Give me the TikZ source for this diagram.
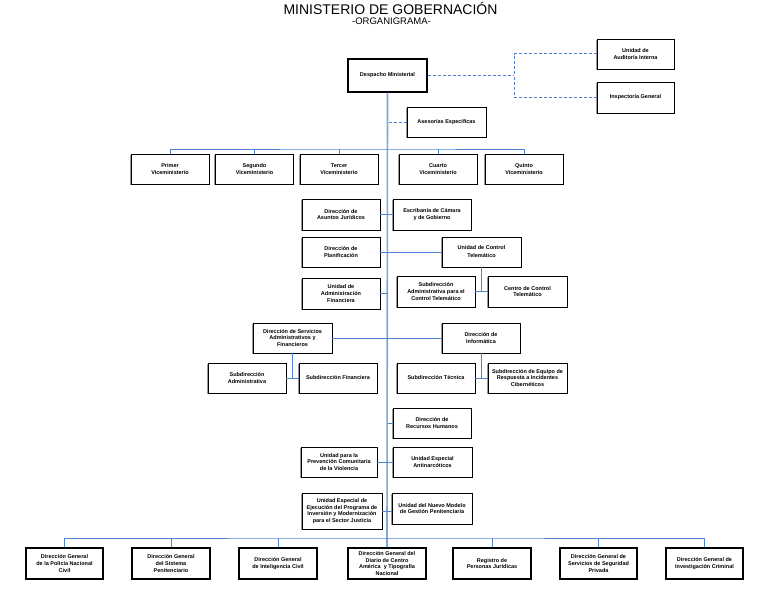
\documentclass[tikz,border=0pt]{standalone}
\usepackage{fontspec}
\setmainfont{Liberation Sans}
\usetikzlibrary{shadows}
\definecolor{spineblue}{RGB}{128,166,222}
\definecolor{lineblue}{RGB}{80,130,212}
\begin{document}
\begin{tikzpicture}[x=1pt,y=-1pt,
  box/.style={draw=black, line width=0.9pt, fill=white, align=center,
    inner sep=1pt, minimum width=78pt, minimum height=30pt,
    font=\fontsize{5.5}{6.8}\selectfont\bfseries,
    drop shadow={shadow xshift=-1.2pt, shadow yshift=-1.2pt, fill=black!40, opacity=1}},
  bigbox/.style={box, line width=1.8pt, minimum height=31pt},
  conn/.style={draw=lineblue, line width=0.9pt},
  spine/.style={draw=spineblue, line width=1.6pt},
  dashconn/.style={draw=lineblue, line width=1pt, dash pattern=on 3pt off 2pt}]
\useasboundingbox (0,0) rectangle (768,594);
\fill[white] (0,0) rectangle (768,594);

\node[font=\fontsize{14}{16}\selectfont] (title) at (390.5,8.5) {MINISTERIO DE GOBERNACIÓN};
\node[font=\fontsize{9.5}{11}\selectfont] (subtitle) at (391.5,21.5) {-ORGANIGRAMA-};

% top
\node[box, line width=1.3pt, minimum width=79pt, minimum height=33pt] (desp) at (387.5,75.5) {Despacho Ministerial};
\node[box, minimum width=77pt] (aud) at (635.5,54) {Unidad de\\Auditoría Interna};
\node[box, minimum width=77pt, minimum height=31pt] (insp) at (635.5,97.5) {Inspectoría General};
\node[box, minimum width=79pt] (ases) at (446.5,122) {Asesorías Específicas};

% vice
\node[box] (v1) at (170,169) {Primer\\Viceministerio};
\node[box] (v2) at (254.5,169) {Segundo\\Viceministerio};
\node[box] (v3) at (339,169) {Tercer\\Viceministerio};
\node[box] (v4) at (438,169) {Cuarto\\Viceministerio};
\node[box] (v5) at (524,169) {Quinto\\Viceministerio};

% middle
\node[box, minimum height=31pt] (jur) at (341,214.5) {Dirección de\\Asuntos Jurídicos};
\node[box, minimum height=31pt] (esc) at (432,214.5) {Escribanía de Cámara\\y de Gobierno};
\node[box] (plan) at (341,252) {Dirección de\\Planificación};
\node[box, minimum width=79pt, font=\fontsize{5.5}{8}\selectfont\bfseries] (ctel) at (481.5,252) {Unidad de Control\\Telemático};
\node[box, minimum height=31pt] (sact) at (436,291.5) {Subdirección\\Administrativa para el\\Control Telemático};
\node[box, minimum width=79pt, minimum height=31pt] (cct) at (527.5,291.5) {Centro de Control\\Telemático};
\node[box, minimum height=31pt] (afin) at (341,293.5) {Unidad de\\Administración\\Financiera};
\node[box, minimum width=79pt] (serv) at (292.5,338) {Dirección de Servicios\\Administrativos y\\Financieros};
\node[box] (inf) at (481,338) {Dirección de\\Informática};
\node[box] (sadm) at (247,378) {Subdirección\\Administrativa};
\node[box] (sfin) at (338,378) {Subdirección Financiera};
\node[box] (stec) at (436,378) {Subdirección Técnica};
\node[box, minimum width=79pt] (seq) at (527.5,378) {Subdirección de Equipo de\\Respuesta a Incidentes\\Cibernéticos};
\node[box] (rrhh) at (432,423) {Dirección de\\Recursos Humanos};
\node[box, minimum width=76pt] (prev) at (339,462) {Unidad para la\\Prevención Comunitaria\\de la Violencia};
\node[box, minimum width=79pt] (anti) at (432.5,462) {Unidad Especial\\Antinarcóticos};
\node[box, minimum width=80pt, minimum height=36pt] (ejec) at (342,511) {Unidad Especial de\\Ejecución del Programa de\\Inversión y Modernización\\para el Sector Justicia};
\node[box, minimum width=80pt, minimum height=31pt] (nuev) at (432,508.5) {Unidad del Nuevo Modelo\\de Gestión Penitenciaria};

% bottom
\node[bigbox, minimum width=77pt] (b1) at (64.5,563.5) {Dirección General\\de la Policía Nacional\\Civil};
\node[bigbox] (b2) at (171,563.5) {Dirección General\\del Sistema\\Penitenciario};
\node[bigbox] (b3) at (278,563.5) {Dirección General\\de Inteligencia Civil};
\node[bigbox] (b4) at (387,563.5) {Dirección General del\\Diario de Centro\\América\ \ y Tipografía\\Nacional};
\node[bigbox] (b5) at (492,563.5) {Registro de\\Personas Jurídicas};
\node[bigbox, minimum width=77pt] (b6) at (598.5,563.5) {Dirección General de\\Servicios de Seguridad\\Privada};
\node[bigbox, minimum width=77pt] (b7) at (704.5,563.5) {Dirección General de\\Investigación Criminal};

% coordinates
\coordinate (dj) at (514,75.5);
\coordinate (vbar) at (387.5,149);
\coordinate (bbar) at (387.5,538);

% spine
\draw[spine] (desp.south) -- (b4.north);
% dashed
\draw[dashconn] (desp.east) -- (dj);
\draw[dashconn] (aud.west) -| (dj);
\draw[dashconn] (insp.west) -| (dj);
\draw[dashconn] (ases.west) -- (ases.west -| desp.south);
% vice
\draw[conn] (v1.north) |- (vbar) -| (v5.north);
\draw[conn] (v2.north) -- (v2.north |- vbar);
\draw[conn] (v3.north) -- (v3.north |- vbar);
\draw[conn] (v4.north) -- (v4.north |- vbar);
% middle
\draw[conn] (jur.east) -- (esc.west);
\draw[conn] (plan.east) -- (ctel.west);
\draw[conn] (ctel.south) -- (ctel.south |- cct.west);
\draw[conn] (sact.east) -- (cct.west);
\draw[conn] (afin.east) -- (afin.east -| desp.south);
\draw[conn] (serv.east) -- (inf.west);
\draw[conn] (serv.south) -- (serv.south |- sfin.west);
\draw[conn] (sadm.east) -- (sfin.west);
\draw[conn] (inf.south) -- (inf.south |- seq.west);
\draw[conn] (stec.east) -- (seq.west);
\draw[conn] (rrhh.west) -- (rrhh.west -| desp.south);
\draw[conn] (prev.east) -- (anti.west);
\draw[conn] (ejec.east) -- (ejec.east -| nuev.west);
% bottom
\draw[conn] (b1.north) |- (bbar) -| (b7.north);
\draw[conn] (b2.north) -- (b2.north |- bbar);
\draw[conn] (b3.north) -- (b3.north |- bbar);
\draw[conn] (b5.north) -- (b5.north |- bbar);
\draw[conn] (b6.north) -- (b6.north |- bbar);
\end{tikzpicture}
\end{document}
